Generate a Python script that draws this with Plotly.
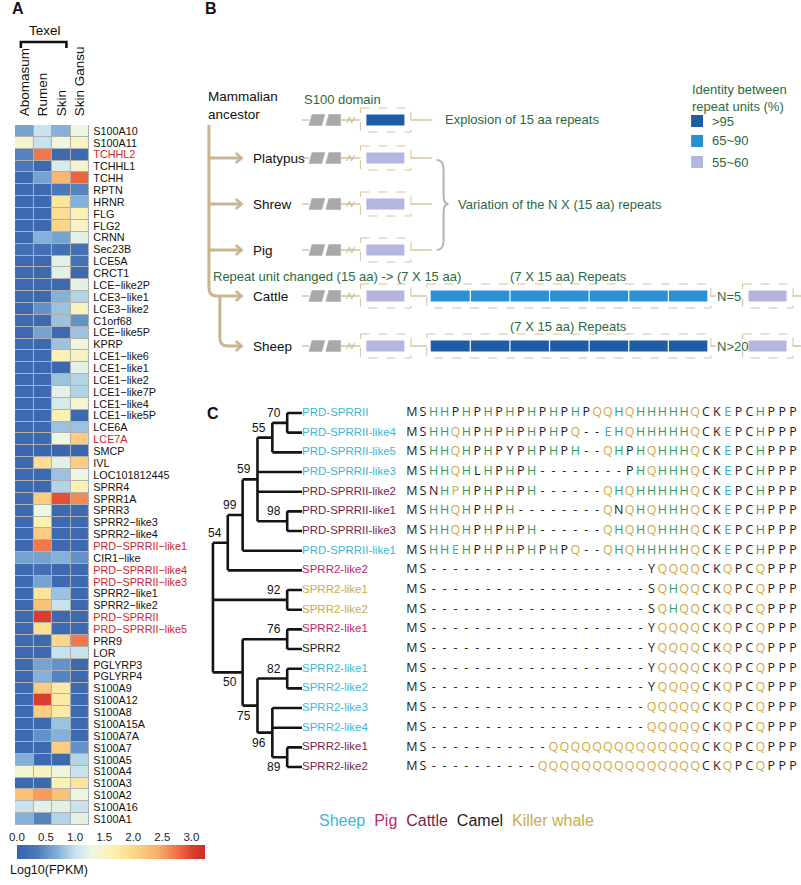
import plotly.graph_objects as go

W, H = 801, 885


def px(x):
    return x / W


def py(y):
    return 1 - y / H


FONT = "Liberation Sans"

# ---------------- Panel A data ----------------
TISSUES = ["Abomasum", "Rumen", "Skin", "Skin Gansu"]
TEXEL_GROUP = ["Abomasum", "Rumen", "Skin"]
GENES = [
    "S100A10", "S100A11", "TCHHL2", "TCHHL1", "TCHH", "RPTN", "HRNR", "FLG", "FLG2",
    "CRNN", "Sec23B", "LCE5A", "CRCT1", "LCE\u2212like2P", "LCE3\u2212like1", "LCE3\u2212like2",
    "C1orf68", "LCE\u2212like5P", "KPRP", "LCE1\u2212like6", "LCE1\u2212like1", "LCE1\u2212like2",
    "LCE1\u2212like7P", "LCE1\u2212like4", "LCE1\u2212like5P", "LCE6A", "LCE7A", "SMCP", "IVL",
    "LOC101812445", "SPRR4", "SPRR1A", "SPRR3", "SPRR2\u2212like3", "SPRR2\u2212like4",
    "PRD\u2212SPRRII\u2212like1", "CIR1\u2212like", "PRD\u2212SPRRII\u2212like4",
    "PRD\u2212SPRRII\u2212like3", "SPRR2\u2212like1", "SPRR2\u2212like2", "PRD\u2212SPRRII",
    "PRD\u2212SPRRII\u2212like5", "PRR9", "LOR", "PGLYRP3", "PGLYRP4", "S100A9", "S100A12",
    "S100A8", "S100A15A", "S100A7A", "S100A7", "S100A5", "S100A4", "S100A3", "S100A2",
    "S100A16", "S100A1",
]
RED_GENES = [
    "TCHHL2", "LCE7A", "PRD\u2212SPRRII\u2212like1", "PRD\u2212SPRRII\u2212like4",
    "PRD\u2212SPRRII\u2212like3", "PRD\u2212SPRRII", "PRD\u2212SPRRII\u2212like5",
]
LOG10_FPKM = [
    [0.6, 1.0, 0.7, 1.3], [1.4, 1.0, 1.3, 1.5], [0.4, 2.7, 0.1, 0.1], [0.3, 0.1, 1.1, 1.4],
    [0.1, 0.6, 2.3, 2.8], [0.1, 0.1, 0.3, 0.4], [0.1, 0.1, 1.8, 0.7], [0.1, 0.1, 1.9, 1.6],
    [0.1, 0.1, 2.0, 1.5], [0.1, 0.7, 0.6, 1.2], [0.2, 0.2, 0.2, 0.2], [0.1, 0.1, 1.2, 0.2],
    [0.1, 0.1, 1.2, 0.1], [0.1, 0.1, 0.1, 1.2], [0.1, 0.1, 0.7, 0.9], [0.1, 0.5, 0.8, 1.5],
    [0.1, 0.1, 0.8, 0.5], [0.1, 0.6, 0.1, 0.8], [0.1, 0.1, 0.8, 1.3], [0.1, 0.1, 1.6, 1.5],
    [0.1, 0.1, 0.1, 1.2], [0.1, 0.1, 0.8, 0.9], [0.1, 0.1, 1.2, 0.9], [0.1, 0.1, 1.1, 1.4],
    [0.1, 0.1, 1.6, 0.1], [0.1, 0.1, 0.8, 0.8], [0.1, 0.1, 1.3, 2.1], [0.05, 0.05, 0.05, 0.05],
    [0.1, 1.9, 1.2, 2.1], [0.1, 0.1, 0.8, 1.3], [0.1, 0.1, 0.9, 1.6], [0.1, 2.1, 2.9, 2.6],
    [0.1, 1.3, 0.1, 0.1], [0.1, 1.6, 0.1, 0.1], [0.1, 2.1, 0.1, 0.1], [0.1, 2.7, 0.1, 0.1],
    [0.6, 0.6, 0.7, 0.5], [0.1, 0.2, 0.1, 0.1], [0.1, 0.6, 0.1, 0.1], [0.1, 1.8, 0.8, 0.1],
    [0.1, 2.2, 1.0, 0.1], [0.1, 3.0, 0.1, 0.1], [0.1, 1.9, 0.1, 0.1], [0.1, 0.1, 2.0, 2.7],
    [0.1, 0.1, 1.0, 1.0], [0.1, 0.6, 0.5, 0.1], [0.1, 0.7, 0.4, 0.1], [0.1, 2.1, 1.7, 0.1],
    [0.1, 3.0, 1.7, 0.1], [0.1, 2.1, 1.7, 0.1], [0.1, 0.1, 0.8, 0.1], [0.1, 0.5, 0.7, 0.1],
    [0.1, 0.1, 2.1, 0.5], [0.7, 0.1, 0.1, 0.9], [1.4, 1.5, 1.3, 1.0], [0.1, 0.1, 1.6, 1.8],
    [2.2, 2.5, 2.2, 1.3], [1.0, 1.2, 1.2, 1.0], [0.7, 0.4, 0.9, 1.2],
]
CB_TICKS = [0.0, 0.5, 1.0, 1.5, 2.0, 2.5, 3.0]
CB_TITLE = "Log10(FPKM)"

# ---------------- Panel B data ----------------
B_ROOT = "Mammalian<br>ancestor"
B_SPECIES = ["Platypus", "Shrew", "Pig", "Cattle", "Sheep"]
IDENTITY_CLASSES = [">95", "65~90", "55~60"]
B_ANCESTOR = [[">95"]]
B_STRUCT = {
    "Platypus": [["55~60"]],
    "Shrew": [["55~60"]],
    "Pig": [["55~60"]],
    "Cattle": [["55~60"], ["65~90"] * 7, ["55~60"]],
    "Sheep": [["55~60"], [">95"] * 7, ["55~60"]],
}
B_COPIES = {"Cattle": "N=5", "Sheep": "N>20"}
B_NOTES = {
    "domain": "S100 domain",
    "ancestor": "Explosion of 15 aa repeats",
    "variation": "Variation of the N X (15 aa) repeats",
    "changed": "Repeat unit changed (15 aa) -> (7 X 15 aa)",
    "repeats": "(7 X 15 aa) Repeats",
    "legend": "Identity between<br>repeat units (%)",
}

# ---------------- Panel C data ----------------
LEAF_NAMES = [
    "PRD-SPRRII", "PRD-SPRRII-like4", "PRD-SPRRII-like5", "PRD-SPRRII-like3",
    "PRD-SPRRII-like2", "PRD-SPRRII-like1", "PRD-SPRRII-like3", "PRD-SPRRII-like1",
    "SPRR2-like2", "SPRR2-like1", "SPRR2-like2", "SPRR2-like1", "SPRR2", "SPRR2-like1",
    "SPRR2-like2", "SPRR2-like3", "SPRR2-like4", "SPRR2-like1", "SPRR2-like2",
]
LEAF_SPECIES = [
    "Sheep", "Sheep", "Sheep", "Sheep", "Cattle", "Cattle", "Cattle", "Sheep", "Pig",
    "Killer whale", "Killer whale", "Pig", "Camel", "Sheep", "Sheep", "Sheep", "Sheep",
    "Cattle", "Cattle",
]
ALIGNMENT = [
    "MSHHPHPHPHPHPHPHPQQHQHHHHHQCKEPCHPPP",
    "MSHHQHPHPHPHPHPQ--EHQHHHHHQCKEPCHPPP",
    "MSHHQHPHPYPHPHPH--QHPHQHHHQCKEPCHPPP",
    "MSHHQHLHPHPH--------PHQHHHQCKEPCHPPP",
    "MSNHPHPHPHPH------QHQHHHHHQCKEPCHPPP",
    "MSHHQHPHPH--------QNQHQHHHQCKEPCHPPP",
    "MSHHQHPHPHPH------QHQHQHHHQCKEPCHPPP",
    "MSHHEHPHPHPHPHPQ--QHQHHHHHQCKEPCHPPP",
    "MS--------------------YQQQQCKQPCQPPP",
    "MS--------------------SQHQQCKQPCQPPP",
    "MS--------------------SQHQQCKQPCQPPP",
    "MS--------------------YQQQQCKQPCQPPP",
    "MS--------------------YQQQQCKQPCQPPP",
    "MS--------------------YQQQQCKQPCQPPP",
    "MS--------------------YQQQQCKQPCQPPP",
    "MS--------------------QQQQQCKQPCQPPP",
    "MS--------------------QQQQQCKQPCQPPP",
    "MS-----------QQQQQQQQQQQQQQCKQPCQPPP",
    "MS----------QQQQQQQQQQQQQQQCKQPCQPPP",
]
HIGHLIGHTED_RESIDUES = [(4, 4)]  # (row, column) shown in the Q colour
# tree: (depth level, bootstrap, label side, children); leaves are row indices
TREE = (0, None, None, [
    (1, 54, "above", [
        (2, 99, "above", [
            (3, 59, "above", [
                (4, 55, "above", [(5, 70, "above", [0, 1]), 2]),
                3, 4,
                (5, 98, "above", [5, 6]),
            ]),
            7,
        ]),
        8,
    ]),
    (5, 92, "above", [9, 10]),
    (2, 50, "below", [
        (5, 76, "above", [11, 12]),
        (3, 75, "below", [
            (5, 82, "above", [13, 14]),
            (4, 96, "below", [15, 16, (5, 89, "below", [17, 18])]),
        ]),
    ]),
])
SPECIES_ORDER = ["Sheep", "Pig", "Cattle", "Camel", "Killer whale"]

# ---------------- styles ----------------
SPECIES_COLORS = {"Sheep": "#3db6d8", "Pig": "#c4256a", "Cattle": "#7a1f47",
                  "Camel": "#1c1c1c", "Killer whale": "#c8ab4e"}
RESIDUE_COLORS = {"H": "#2f9d60", "Q": "#d2a744", "E": "#36a3d6"}
IDENTITY_COLORS = {">95": "#1f5ca6", "65~90": "#2b8fd3", "55~60": "#b5b6e0"}
GREEN = "#2b6a40"
TAN = "#c8b592"
DASH = "#d7c19e"
COLORSCALE = [
    [0.00, "#3763ab"], [0.11, "#4c7bba"], [0.22, "#86b2d8"], [0.31, "#c8e2ee"],
    [0.40, "#eef6e2"], [0.50, "#fbf1b3"], [0.62, "#fcd78a"], [0.75, "#f8ae69"],
    [0.85, "#f07449"], [0.94, "#da3a2c"], [1.00, "#d12f27"],
]
ZMAX = 3.2

fig = go.Figure()


def ann(x, y, text, xanchor="left", yanchor="middle", **kw):
    fig.add_annotation(x=px(x), y=py(y), xref="paper", yref="paper", text=text,
                       xanchor=xanchor, yanchor=yanchor, showarrow=False, **kw)


# ---------- Panel A : heatmap ----------
n_genes = len(GENES)
CB_X0, CB_X1 = 9, 197
fig.add_trace(go.Heatmap(
    z=LOG10_FPKM, x=list(range(len(TISSUES))), y=list(range(n_genes)),
    colorscale=COLORSCALE, zmin=0, zmax=ZMAX, xgap=1, ygap=1, hoverinfo="skip",
    colorbar=dict(orientation="h", x=px(CB_X0), xanchor="left", y=py(851.5), yanchor="middle",
                  len=CB_X1 - CB_X0, lenmode="pixels", thickness=14, thicknessmode="pixels",
                  xpad=0, ypad=0, outlinewidth=0, ticks="", showticklabels=False),
    xaxis="x", yaxis="y",
))
# axis carrying the colour-bar tick labels (above the bar)
fig.add_trace(go.Scatter(x=[], y=[], xaxis="x5", yaxis="y5", hoverinfo="skip"))

gene_text = [f'<span style="color:#d0242b">{g}</span>' if g in RED_GENES else g for g in GENES]

fig.add_shape(type="rect", xref="x", yref="y", x0=-0.5, x1=len(TISSUES) - 0.5,
              y0=-0.5, y1=n_genes - 0.5, fillcolor="#b0b0b0", line_width=0, layer="below")

# Texel bracket
bx0, bx1 = 13, 59
fig.add_shape(type="path", xref="paper", yref="paper",
              path=f"M {px(bx0)} {py(48)} L {px(bx0)} {py(42)} L {px(bx1)} {py(42)} L {px(bx1)} {py(48)}",
              line=dict(color="#111", width=2.6))
ann(37, 31, "Texel", xanchor="center", font=dict(family=FONT, size=13.5, color="#111"))
ann(0, 870, CB_TITLE, font=dict(family=FONT, size=12.5, color="#111"))

# ---------- Panel B : schematic ----------
rows_y = {"anc": 120, "Platypus": 158, "Shrew": 204, "Pig": 250, "Cattle": 296, "Sheep": 346}
shapes = []


def line(x0, y0, x1, y1, color, width, dash=None):
    shapes.append(dict(type="line", xref="paper", yref="paper", x0=px(x0), y0=py(y0),
                       x1=px(x1), y1=py(y1), line=dict(color=color, width=width, dash=dash)))


def rect(x0, y0, x1, y1, fill=None, color=None, width=0, dash=None):
    shapes.append(dict(type="rect", xref="paper", yref="paper", x0=px(x0), y0=py(y0),
                       x1=px(x1), y1=py(y1), fillcolor=fill,
                       line=dict(color=color or "rgba(0,0,0,0)", width=width, dash=dash)))


def path(pts, color, width, fill=None):
    parts = []
    for p in pts:
        c = p[0]
        if c in "ML":
            parts.append(f"{c} {px(p[1])} {py(p[2])}")
        elif c == "Q":
            parts.append(f"Q {px(p[1])} {py(p[2])} {px(p[3])} {py(p[4])}")
        elif c == "Z":
            parts.append("Z")
    shapes.append(dict(type="path", xref="paper", yref="paper", path=" ".join(parts),
                       fillcolor=fill, line=dict(color=color, width=width)))


def gene_model(y, boxes, copies=None):
    # two grey exon blocks broken by a slash
    path([("M", 304, y + 5.5), ("L", 307, y - 5.5), ("L", 320, y - 5.5), ("L", 317, y + 5.5), ("Z",)],
         "#a9a9a9", 0.5, fill="#a9a9a9")
    path([("M", 321, y + 5.5), ("L", 324, y - 5.5), ("L", 336, y - 5.5), ("L", 336, y + 5.5), ("Z",)],
         "#a9a9a9", 0.5, fill="#a9a9a9")
    line(297, y, 304, y, TAN, 1.2)
    line(336, y, 356, y, TAN, 1.2)
    path([("M", 342, y + 3), ("L", 345, y - 3), ("L", 347, y + 3), ("L", 350, y - 3)], TAN, 1)
    x = 356
    for i, box in enumerate(boxes):
        if len(box) == 1:
            pad, unit = 6, 39
        else:
            pad, unit = 4, 40
        bx1_ = x + 2 * pad + unit * len(box)
        if len(box) > 1:
            bx1_ -= 1
        rect(x, y - 12, bx1_, y + 12, color=DASH, width=1, dash="dash")
        for j, cls in enumerate(box):
            rect(x + pad + j * unit + (0.6 if j else 0), y - 5.5, x + pad + (j + 1) * unit - 0.6, y + 5.5,
                 fill=IDENTITY_COLORS[cls])
        if i < len(boxes) - 1:
            if len(boxes[i + 1]) > 1:
                line(bx1_, y, bx1_ + 16, y, TAN, 1.2)
                x = bx1_ + 16
            else:
                line(bx1_, y, bx1_ + 5, y, TAN, 1.2)
                if copies:
                    ann(bx1_ + 4, y, copies.replace(">", "&gt;"),
                        font=dict(family=FONT, size=13, color=GREEN))
                x = bx1_ + 32
        else:
            line(bx1_, y, min(bx1_ + 21, W), y, TAN, 1.2)


gene_model(rows_y["anc"], B_ANCESTOR)
for sp in B_SPECIES:
    gene_model(rows_y[sp], B_STRUCT[sp], B_COPIES.get(sp))
    ann(245, rows_y[sp], sp, font=dict(family=FONT, size=13.5, color="#111"))

# lineage lines and arrows
cy, sy = rows_y["Cattle"], rows_y["Sheep"]
path([("M", 203, 125), ("L", 203, cy - 8), ("Q", 203, cy, 211, cy), ("L", 235, cy)], TAN, 3)
for sp in ["Platypus", "Shrew", "Pig"]:
    line(203, rows_y[sp], 235, rows_y[sp], TAN, 3)
path([("M", 214, cy + 1), ("L", 214, sy - 8), ("Q", 214, sy, 222, sy), ("L", 235, sy)], TAN, 3)
for sp in B_SPECIES:
    y = rows_y[sp]
    path([("M", 230, y - 5), ("L", 236, y), ("L", 230, y + 5)], TAN, 2.6)

# brace
path([("M", 433, 160), ("Q", 440, 160, 440, 170), ("L", 440, 196), ("Q", 440, 204, 445, 204),
      ("Q", 440, 204, 440, 212), ("L", 440, 240), ("Q", 440, 250, 433, 250)], "#b5b5b5", 2)


def note(x, y, text, anchor="left", size=13):
    ann(x, y, text, xanchor=anchor, font=dict(family=FONT, size=size, color=GREEN))


ann(200, 105, B_ROOT, align="left", font=dict(family=FONT, size=13.5, color="#111"))
note(297, 99, B_NOTES["domain"])
note(439, 120, B_NOTES["ancestor"])
note(453, 204, B_NOTES["variation"])
note(205, 276, B_NOTES["changed"].replace(">", "&gt;"))
note(566, 276, B_NOTES["repeats"], anchor="center")
note(566, 327, B_NOTES["repeats"], anchor="center")
ann(689, 98, B_NOTES["legend"], align="left", font=dict(family=FONT, size=13, color=GREEN))
for k, cls in enumerate(IDENTITY_CLASSES):
    yy = [121, 141, 162][k]
    rect(690, yy - 6, 702, yy + 6, fill=IDENTITY_COLORS[cls])
    note(709, yy, cls.replace(">", "&gt;"))

# ---------- Panel C : tree + alignment ----------
LEAF_LEVEL = 6
segs, boots = [], []


def layout_tree(node):
    if isinstance(node, int):
        return node
    level, boot, side, children = node
    ys = []
    for ch in children:
        y = layout_tree(ch)
        cx = LEAF_LEVEL if isinstance(ch, int) else ch[0]
        segs.append((level, y, cx, y))
        ys.append(y)
    segs.append((level, ys[0], level, ys[-1]))
    yn = (ys[0] + ys[-1]) / 2
    if boot is not None:
        boots.append((level, yn, boot, side))
    return yn


layout_tree(TREE)
tx, ty = [], []
for x0, y0, x1, y1 in segs:
    tx += [x0, x1, None]
    ty += [y0, y1, None]
fig.add_trace(go.Scatter(x=tx, y=ty, mode="lines", line=dict(color="#141414", width=2.6),
                         cliponaxis=False, hoverinfo="skip", xaxis="x4", yaxis="y3"))
fig.add_trace(go.Scatter(
    x=[LEAF_LEVEL] * len(LEAF_NAMES), y=list(range(len(LEAF_NAMES))), mode="text",
    text=LEAF_NAMES, textposition="middle right", cliponaxis=False, hoverinfo="skip",
    textfont=dict(family=FONT, size=11.5, color=[SPECIES_COLORS[s] for s in LEAF_SPECIES]),
    xaxis="x4", yaxis="y3"))
for level, yn, boot, side in boots:
    fig.add_annotation(x=level, y=yn, xref="x4", yref="y3", text=str(boot), showarrow=False,
                       xanchor="right", yanchor="bottom" if side == "above" else "top",
                       xshift=-4, yshift=1 if side == "above" else -1,
                       font=dict(family=FONT, size=12, color="#111"))

ax_, ay_, at_, ac_ = [], [], [], []
for r, seq in enumerate(ALIGNMENT):
    for c, ch in enumerate(seq):
        ax_.append(c)
        ay_.append(r)
        at_.append(ch)
        ac_.append(RESIDUE_COLORS["Q"] if (r, c) in HIGHLIGHTED_RESIDUES else RESIDUE_COLORS.get(ch, "#1c1c1c"))
fig.add_trace(go.Scatter(x=ax_, y=ay_, text=at_, mode="text", cliponaxis=False, hoverinfo="skip",
                         textfont=dict(family="Open Sans", size=12.5, color=ac_),
                         xaxis="x3", yaxis="y3"))

legend_text = " \u00a0".join(f'<span style="color:{SPECIES_COLORS[s]}">{s}</span>' for s in SPECIES_ORDER)
ann(453, 820, legend_text, xanchor="center", font=dict(family=FONT, size=16))

# panel letters
for letter, (lx, ly) in {"A": (2, 9), "B": (197, 9), "C": (199, 413)}.items():
    ann(lx, ly, f"<b>{letter}</b>", font=dict(family=FONT, size=16, color="#111"))

n_rows = len(ALIGNMENT)
n_cols = len(ALIGNMENT[0])
row0, rowpitch = 413, 19.67
colpitch = 11.0
fig.update_layout(
    width=W, height=H, margin=dict(l=0, r=0, t=0, b=0),
    paper_bgcolor="white", plot_bgcolor="white", showlegend=False,
    font=dict(family=FONT, color="#111"),
    shapes=list(fig.layout.shapes) + shapes,
    xaxis=dict(domain=[px(7), px(82)], range=[-0.5, len(TISSUES) - 0.5], side="top",
               tickvals=list(range(len(TISSUES))), ticktext=TISSUES, tickangle=-90,
               ticks="outside", ticklen=5, tickcolor="rgba(0,0,0,0)",
               tickfont=dict(family=FONT, size=13.5, color="#111"),
               showgrid=False, zeroline=False, showline=False, anchor="y"),
    yaxis=dict(domain=[py(825), py(125)], range=[n_genes - 0.5, -0.5], side="right",
               tickvals=list(range(n_genes)), ticktext=gene_text,
               ticks="outside", ticklen=1, tickcolor="rgba(0,0,0,0)",
               tickfont=dict(family=FONT, size=10.8, color="#111"),
               showgrid=False, zeroline=False, showline=False, anchor="x"),
    xaxis3=dict(domain=[px(408 - colpitch / 2), px(408 + (n_cols - 0.5) * colpitch)],
                range=[-0.5, n_cols - 0.5], visible=False, anchor="y3"),
    yaxis3=dict(domain=[py(row0 + (n_rows - 0.5) * rowpitch), py(row0 - rowpitch / 2)],
                range=[n_rows - 0.5, -0.5], visible=False, anchor="x3"),
    xaxis4=dict(domain=[px(199.5), px(304.5)], range=[-0.5, 6.5], visible=False, anchor="y3"),
    xaxis5=dict(domain=[px(CB_X0), px(CB_X1)], range=[0, ZMAX], side="top", anchor="y5",
                tickvals=CB_TICKS, ticktext=[f"{v:.1f}" for v in CB_TICKS], ticks="",
                showgrid=False, zeroline=False, showline=False,
                tickfont=dict(family=FONT, size=11.5, color="#222")),
    yaxis5=dict(domain=[py(845), py(844)], visible=False, anchor="x5"),
)

fig.write_html("out.html", config={"displayModeBar": False, "staticPlot": True},
               post_script="document.body.style.margin='0px';")
